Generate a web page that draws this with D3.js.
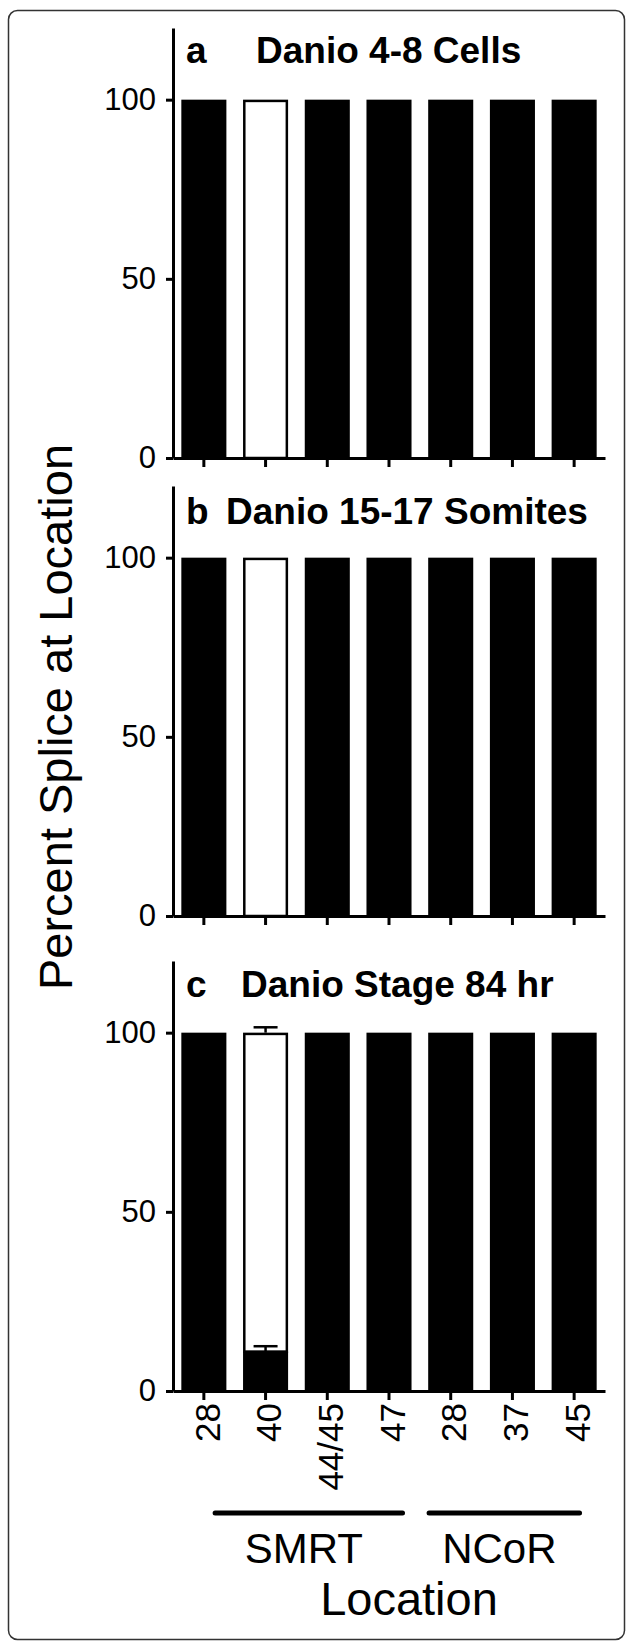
<!DOCTYPE html>
<html>
<head>
<meta charset="utf-8">
<script src="https://cdn.jsdelivr.net/npm/d3@7"></script>
<style>
body { margin: 0; background: #fff; }
text { font-family: "Liberation Sans", Arial, sans-serif; fill: #000; }
</style>
</head>
<body>
<svg id="chart"></svg>
<script>
var locations = ["28", "40", "44/45", "47", "28", "37", "45"];
var genes = ["SMRT", "SMRT", "SMRT", "SMRT", "NCoR", "NCoR", "NCoR"];
var panelLetters = ["a", "b", "c"];
var panelTitles = ["Danio 4-8 Cells", "Danio 15-17 Somites", "Danio Stage 84 hr"];
var yTicks = [0, 50, 100];

// percent splice at location: black = spliced, white = not spliced
var spliced = [
    [100, 0, 100, 100, 100, 100, 100],
    [100, 0, 100, 100, 100, 100, 100],
    [100, 11, 100, 100, 100, 100, 100]
];
var unspliced = [
    [0, 100, 0, 0, 0, 0, 0],
    [0, 100, 0, 0, 0, 0, 0],
    [0, 89, 0, 0, 0, 0, 0]
];
var splicedErr = [
    [0, 0, 0, 0, 0, 0, 0],
    [0, 0, 0, 0, 0, 0, 0],
    [0, 1.5, 0, 0, 0, 0, 0]
];
var unsplicedErr = [
    [0, 0, 0, 0, 0, 0, 0],
    [0, 0, 0, 0, 0, 0, 0],
    [0, 1.5, 0, 0, 0, 0, 0]
];

var W = 627, H = 1642;
var left = 173, right = 605;
var panelTop = [28, 486, 961], panelH = 430;

var svg = d3.select("#chart").attr("width", W).attr("height", H);

svg.append("rect")
    .attr("x", 8.5).attr("y", 10.5)
    .attr("width", 616).attr("height", 1629)
    .attr("rx", 9)
    .attr("fill", "none").attr("stroke", "#333").attr("stroke-width", 1.5);

var x = d3.scaleBand()
    .domain(d3.range(locations.length))
    .range([left, right])
    .paddingInner(0.27)
    .paddingOuter(0.135);

panelTitles.forEach(function(title, p){
    var y = d3.scaleLinear().domain([0, 120]).range([panelTop[p] + panelH, panelTop[p]]);
    var g = svg.append("g");

    var rows = d3.range(locations.length).map(function(i){
        return {i: i, s: spliced[p][i], u: unspliced[p][i], se: splicedErr[p][i], ue: unsplicedErr[p][i]};
    });

    // white (not spliced) part on top of the black part
    g.selectAll("rect.white")
        .data(rows.filter(function(d){ return d.u > 0; }))
        .enter().append("rect")
        .attr("class", "white")
        .attr("x", function(d){ return x(d.i) + 1.25; })
        .attr("y", function(d){ return y(d.s + d.u) + 1.25; })
        .attr("width", x.bandwidth() - 2.5)
        .attr("height", function(d){ return y(d.s) - y(d.s + d.u) - 1.25; })
        .attr("fill", "#fff").attr("stroke", "#000").attr("stroke-width", 2.5);

    g.selectAll("rect.black")
        .data(rows.filter(function(d){ return d.s > 0; }))
        .enter().append("rect")
        .attr("class", "black")
        .attr("x", function(d){ return x(d.i); })
        .attr("y", function(d){ return y(d.s); })
        .attr("width", x.bandwidth())
        .attr("height", function(d){ return y(0) - y(d.s); })
        .attr("fill", "#000");

    // error bars
    var errs = [];
    rows.forEach(function(d){
        if (d.se > 0) errs.push({i: d.i, v: d.s, e: d.se});
        if (d.ue > 0) errs.push({i: d.i, v: d.s + d.u, e: d.ue});
    });
    var eg = g.selectAll("g.err").data(errs).enter().append("g").attr("class", "err")
        .attr("stroke", "#000").attr("stroke-width", 2.5);
    eg.append("line")
        .attr("x1", function(d){ return x(d.i) + x.bandwidth() / 2; })
        .attr("x2", function(d){ return x(d.i) + x.bandwidth() / 2; })
        .attr("y1", function(d){ return y(d.v); })
        .attr("y2", function(d){ return y(d.v + d.e); });
    eg.append("line")
        .attr("x1", function(d){ return x(d.i) + x.bandwidth() / 2 - 12; })
        .attr("x2", function(d){ return x(d.i) + x.bandwidth() / 2 + 12; })
        .attr("y1", function(d){ return y(d.v + d.e); })
        .attr("y2", function(d){ return y(d.v + d.e); });

    // axes
    var yAxis = g.append("g")
        .attr("transform", "translate(" + left + ",0)")
        .call(d3.axisLeft(y).tickValues(yTicks).tickSize(7).tickSizeOuter(0).tickPadding(10));
    yAxis.selectAll("text").attr("font-size", 31).style("font-family", "'Liberation Sans', Arial, sans-serif");

    var xAxis = g.append("g")
        .attr("transform", "translate(0," + y(0) + ")")
        .call(d3.axisBottom(x).tickSize(9).tickSizeOuter(0)
            .tickFormat(function(i){ return p == 2 ? locations[i] : ""; }));
    xAxis.selectAll("text")
        .attr("font-size", 35)
        .style("font-family", "'Liberation Sans', Arial, sans-serif")
        .attr("text-anchor", "end")
        .attr("transform", "rotate(-90)")
        .attr("x", -12).attr("y", 0).attr("dy", "0.45em");

    g.selectAll(".domain, .tick line").attr("stroke", "#000").attr("stroke-width", 3);

    // panel titles
    g.append("text")
        .attr("x", 186).attr("y", panelTop[p] + [35, 38, 36][p])
        .attr("font-size", 37).attr("font-weight", "bold")
        .text(panelLetters[p]);
    g.append("text")
        .attr("x", [256, 226, 241][p]).attr("y", panelTop[p] + [35, 38, 36][p])
        .attr("font-size", 37).attr("font-weight", "bold")
        .text(title);
});

// gene group lines under the last panel
var groups = ["SMRT", "NCoR"];
var groupSpan = groups.map(function(gn){
    var idx = d3.range(genes.length).filter(function(i){ return genes[i] == gn; });
    return {name: gn, first: idx[0], last: idx[idx.length - 1]};
});
var lineOffsets = {SMRT: [0.75, 0.8], NCoR: [0.02, 0.62]};
groupSpan.forEach(function(d){
    var x1 = x(d.first) + x.bandwidth() * lineOffsets[d.name][0];
    var x2 = x(d.last) + x.bandwidth() * lineOffsets[d.name][1];
    svg.append("line")
        .attr("x1", x1).attr("x2", x2)
        .attr("y1", 1513).attr("y2", 1513)
        .attr("stroke", "#000").attr("stroke-width", 5).attr("stroke-linecap", "round");
    svg.append("text")
        .attr("x", (x1 + x2) / 2 - 5).attr("y", 1563)
        .attr("text-anchor", "middle").attr("font-size", 42)
        .text(d.name);
});

svg.append("text")
    .attr("x", 409).attr("y", 1615)
    .attr("text-anchor", "middle").attr("font-size", 47)
    .text("Location");

svg.append("text")
    .attr("transform", "translate(72,717) rotate(-90)")
    .attr("text-anchor", "middle").attr("font-size", 47)
    .text("Percent Splice at Location");
</script>
</body>
</html>
